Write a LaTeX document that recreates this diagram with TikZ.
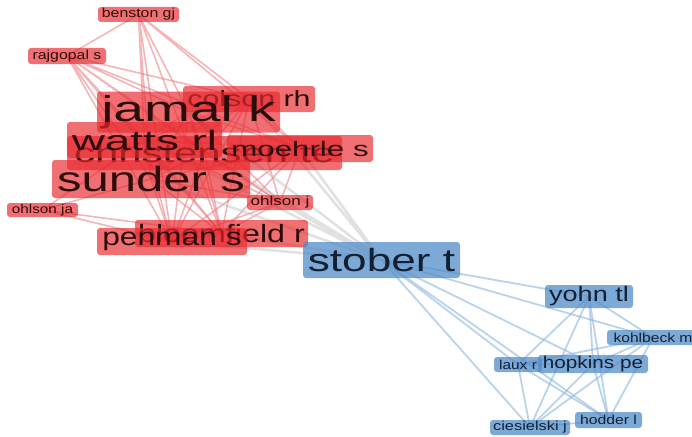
\documentclass[tikz,border=0pt]{standalone}
\usepackage{fontspec}
\setmainfont{Liberation Sans}
\usepackage{tikz}
\usetikzlibrary{backgrounds}
\usepackage{graphicx}
\definecolor{vosred}{RGB}{232, 40, 46}
\definecolor{vosblue}{RGB}{82, 140, 200}
\definecolor{vosredtext}{RGB}{45, 12, 12}
\definecolor{vosbluetext}{RGB}{18, 32, 52}
\definecolor{vosredlink}{RGB}{236, 120, 126}
\definecolor{vosgreylink}{RGB}{195, 195, 195}
\definecolor{vosbluelink}{RGB}{140, 182, 222}
\tikzstyle{rednode} = [rectangle, rounded corners=3pt, inner sep=0pt, fill=vosred,
                       fill opacity=0.67, text opacity=1, text=vosredtext]
\tikzstyle{bluenode} = [rectangle, rounded corners=3pt, inner sep=0pt, fill=vosblue,
                        fill opacity=0.75, text opacity=1, text=vosbluetext]
\tikzstyle{redlink} = [vosredlink, line width=1.6pt, opacity=0.55]
\tikzstyle{greylink} = [vosgreylink, line width=2.6pt, opacity=0.5]
\tikzstyle{bluelink} = [vosbluelink, line width=1.8pt, opacity=0.6]
\newcommand{\lbl}[3]{\scalebox{#2}[1]{\fontsize{#1}{#1}\selectfont #3}}

\begin{document}
\begin{tikzpicture}[x=1pt, y=-1pt]
\useasboundingbox (0,0) rectangle (692,436);

% Red cluster (lower labels first)
\node[rednode, minimum width=275pt, minimum height=34pt] (ct) at (204.5, 153) {\lbl{27}{1.55}{christensen te}};
\node[rednode, minimum width=132pt, minimum height=26pt] (cr) at (249, 99) {\lbl{22}{1.38}{colson rh}};
\node[rednode, minimum width=173pt, minimum height=27pt] (br) at (221.5, 233.5) {\lbl{25}{1.29}{bloomfield r}};
\node[rednode, minimum width=183pt, minimum height=41pt] (jk) at (188.5, 112) {\lbl{36}{1.53}{jamal k}};
\node[rednode, minimum width=155pt, minimum height=36pt] (wr) at (144.5, 140) {\lbl{28}{1.64}{watts rl}};
\node[rednode, minimum width=146pt, minimum height=27pt] (ms) at (300, 148.5) {\lbl{21}{1.49}{moehrle s}};
\node[rednode, minimum width=198pt, minimum height=38pt] (ss) at (151, 179) {\lbl{35}{1.40}{sunder s}};
\node[rednode, minimum width=150pt, minimum height=27pt] (ps) at (172, 241.5) {\lbl{25}{1.27}{penman s}};
\node[rednode, minimum width=81pt, minimum height=15pt] (bg) at (138.5, 14.5) {\lbl{13}{1.22}{benston gj}};
\node[rednode, minimum width=78pt, minimum height=16pt] (rs) at (67, 56) {\lbl{13}{1.22}{rajgopal s}};
\node[rednode, minimum width=66pt, minimum height=15pt] (oj) at (280, 202.5) {\lbl{13}{1.31}{ohlson j}};
\node[rednode, minimum width=71pt, minimum height=14pt] (oa) at (42.5, 210) {\lbl{12.5}{1.22}{ohlson ja}};

% Blue cluster
\node[bluenode, minimum width=157pt, minimum height=36pt] (st) at (381.5, 260) {\lbl{32}{1.38}{stober t}};
\node[bluenode, minimum width=88pt, minimum height=23pt] (yt) at (589, 296.5) {\lbl{21}{1.29}{yohn tl}};
\node[bluenode, minimum width=92pt, minimum height=15pt] (km) at (653, 337.5) {\lbl{13}{1.20}{kohlbeck m}};
\node[bluenode, minimum width=48pt, minimum height=15pt] (lr) at (518, 364.5) {\lbl{13}{1.19}{laux r}};
\node[bluenode, minimum width=110pt, minimum height=18pt] (hp) at (593, 364) {\lbl{17}{1.22}{hopkins pe}};
\node[bluenode, minimum width=80pt, minimum height=15pt] (cj) at (530, 427.5) {\lbl{13}{1.26}{ciesielski j}};
\node[bluenode, minimum width=67pt, minimum height=16pt] (hl) at (608.5, 420) {\lbl{13}{1.21}{hodder l}};

% Links
\begin{scope}[on background layer]
\draw[redlink] (bg.center) -- (rs.center) (bg.center) -- (jk.center) (bg.center) -- (wr.center)
    (bg.center) -- (ss.center) (bg.center) -- (cr.center) (bg.center) -- (ms.center)
    (bg.center) -- (br.center) (bg.center) -- (ps.center);
\draw[redlink] (rs.center) -- (jk.center) (rs.center) -- (wr.center) (rs.center) -- (ct.center)
    (rs.center) -- (ss.center) (rs.center) -- (cr.center) (rs.center) -- (ms.center)
    (rs.center) -- (br.center) (rs.center) -- (ps.center) (rs.center) -- (oj.center);
\draw[redlink] (oa.center) -- (ss.center) (oa.center) -- (ps.center) (oa.center) -- (br.center)
    (oa.center) -- (wr.center);
\draw[redlink] (jk.center) -- (cr.center) (jk.center) -- (wr.center) (jk.center) -- (ct.center)
    (jk.center) -- (ms.center) (jk.center) -- (ss.center) (jk.center) -- (oj.center)
    (jk.center) -- (br.center) (jk.center) -- (ps.center);
\draw[redlink] (cr.center) -- (wr.center) (cr.center) -- (ct.center) (cr.center) -- (ms.center)
    (cr.center) -- (ss.center) (cr.center) -- (oj.center) (cr.center) -- (br.center)
    (cr.center) -- (ps.center);
\draw[redlink] (wr.center) -- (ct.center) (wr.center) -- (ms.center) (wr.center) -- (ss.center)
    (wr.center) -- (oj.center) (wr.center) -- (br.center) (wr.center) -- (ps.center);
\draw[redlink] (ct.center) -- (ms.center) (ct.center) -- (ss.center) (ct.center) -- (oj.center)
    (ct.center) -- (br.center) (ct.center) -- (ps.center);
\draw[redlink] (ms.center) -- (ss.center) (ms.center) -- (oj.center) (ms.center) -- (br.center)
    (ms.center) -- (ps.center);
\draw[redlink] (ss.center) -- (oj.center) (ss.center) -- (br.center) (ss.center) -- (ps.center);
\draw[redlink] (oj.center) -- (br.center) (oj.center) -- (ps.center) (br.center) -- (ps.center);

\draw[greylink] (st.center) -- (jk.center) (st.center) -- (cr.center) (st.center) -- (wr.center)
    (st.center) -- (ct.center) (st.center) -- (ms.center) (st.center) -- (ss.center)
    (st.center) -- (oj.center) (st.center) -- (br.center) (st.center) -- (ps.center);

\draw[bluelink] (st.center) -- (yt.center) (st.center) -- (km.center) (st.center) -- (hp.center)
    (st.center) -- (lr.center) (st.center) -- (hl.center) (st.center) -- (cj.center);
\draw[bluelink] (yt.center) -- (km.center) (yt.center) -- (hp.center) (yt.center) -- (lr.center)
    (yt.center) -- (hl.center) (yt.center) -- (cj.center);
\draw[bluelink] (km.center) -- (lr.center) (km.center) -- (hp.center) (km.center) -- (hl.center)
    (km.center) -- (cj.center);
\draw[bluelink] (lr.center) -- (hp.center) (lr.center) -- (hl.center) (lr.center) -- (cj.center);
\draw[bluelink] (hp.center) -- (hl.center) (hp.center) -- (cj.center) (hl.center) -- (cj.center);
\end{scope}

\end{tikzpicture}
\end{document}
